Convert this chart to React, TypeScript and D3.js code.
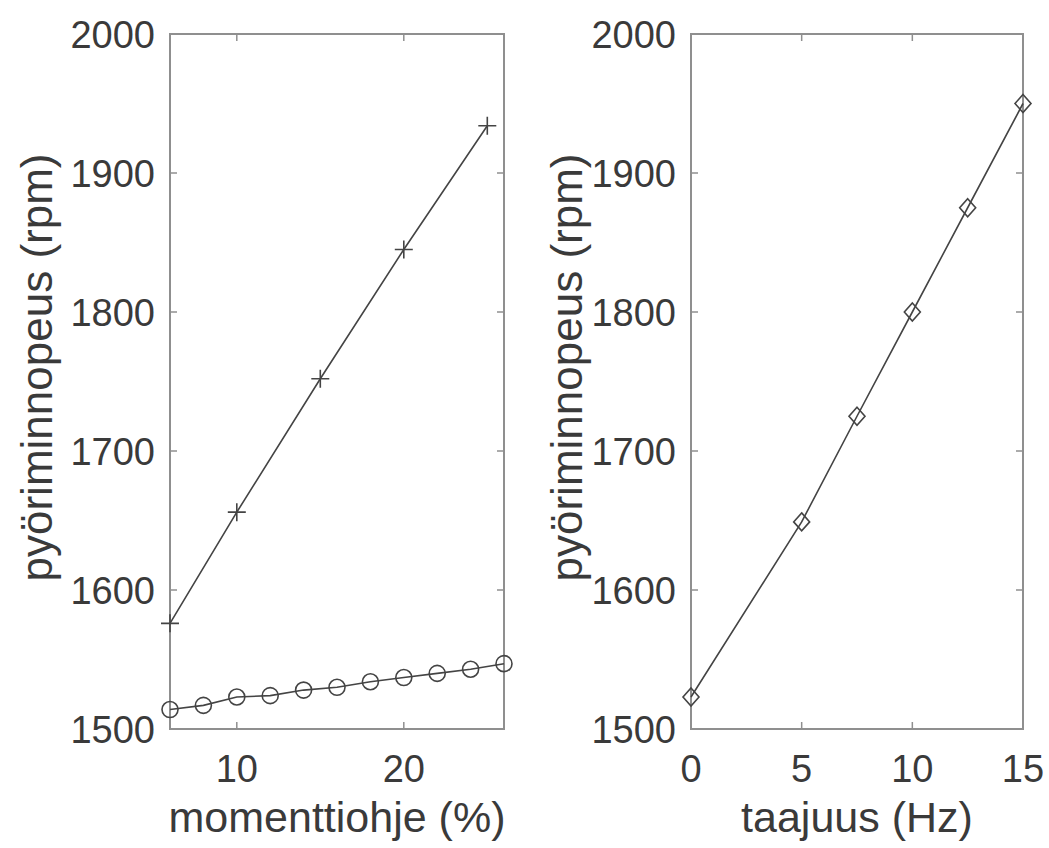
import * as d3 from 'd3';
import { useEffect, useRef } from 'react';

// left panel: speed vs torque command
const torqueX = [6, 10, 15, 20, 25];
const torqueRpm = [1576, 1656, 1752, 1845, 1934];
const loadX = [6, 8, 10, 12, 14, 16, 18, 20, 22, 24, 26];
const loadRpm = [1514, 1517, 1523, 1524, 1528, 1530, 1534, 1537, 1540, 1543, 1547];

// right panel: speed vs frequency
const freqX = [0, 5, 7.5, 10, 12.5, 15];
const freqRpm = [1523, 1649, 1725, 1800, 1875, 1950];

const rpmTicks = [1500, 1600, 1700, 1800, 1900, 2000];
const torqueTicks = [10, 20];
const freqTicks = [0, 5, 10, 15];

const AXIS = '#8f8f8f';
const TEXT = '#3a3a3a';
const LINE = '#444';

export default function App() {
  const ref = useRef<SVGSVGElement | null>(null);

  useEffect(() => {
    const width = 1049;
    const height = 848;
    const svg = d3.select(ref.current);
    svg.selectAll('*').remove();
    svg.attr('width', width).attr('height', height);

    const top = 34;
    const bottom = 729;
    const y = d3.scaleLinear().domain([1500, 2000]).range([bottom, top]);

    const panel = (
      left: number,
      right: number,
      xDomain: [number, number],
      xTicks: number[],
      xLabel: string,
      yLabelX: number
    ) => {
      const x = d3.scaleLinear().domain(xDomain).range([left, right]);
      const g = svg.append('g');

      g.append('rect')
        .attr('x', left)
        .attr('y', top)
        .attr('width', right - left)
        .attr('height', bottom - top)
        .attr('fill', 'none')
        .attr('stroke', AXIS)
        .attr('stroke-width', 2);

      const tl = 7;
      // y ticks (left and right, inward)
      rpmTicks.forEach(t => {
        g.append('line').attr('x1', left).attr('x2', left + tl).attr('y1', y(t)).attr('y2', y(t))
          .attr('stroke', AXIS).attr('stroke-width', 1.5);
        g.append('line').attr('x1', right).attr('x2', right - tl).attr('y1', y(t)).attr('y2', y(t))
          .attr('stroke', AXIS).attr('stroke-width', 1.5);
        g.append('text')
          .attr('x', left - 15)
          .attr('y', y(t))
          .attr('dy', '0.36em')
          .attr('text-anchor', 'end')
          .attr('fill', TEXT)
          .style('font-family', 'Liberation Sans, Arial, sans-serif')
          .style('font-size', '38px')
          .text(t);
      });
      // x ticks (bottom and top, inward)
      xTicks.forEach(t => {
        g.append('line').attr('x1', x(t)).attr('x2', x(t)).attr('y1', bottom).attr('y2', bottom - tl)
          .attr('stroke', AXIS).attr('stroke-width', 1.5);
        g.append('line').attr('x1', x(t)).attr('x2', x(t)).attr('y1', top).attr('y2', top + tl)
          .attr('stroke', AXIS).attr('stroke-width', 1.5);
        g.append('text')
          .attr('x', x(t))
          .attr('y', 782)
          .attr('text-anchor', 'middle')
          .attr('fill', TEXT)
          .style('font-family', 'Liberation Sans, Arial, sans-serif')
          .style('font-size', '38px')
          .text(t);
      });

      g.append('text')
        .attr('x', (left + right) / 2)
        .attr('y', 832)
        .attr('text-anchor', 'middle')
        .attr('fill', TEXT)
        .style('font-family', 'Liberation Sans, Arial, sans-serif')
        .style('font-size', '43px')
        .text(xLabel);

      g.append('text')
        .attr('transform', `translate(${yLabelX},${(top + bottom) / 2 - 14}) rotate(-90)`)
        .attr('text-anchor', 'middle')
        .attr('fill', TEXT)
        .style('font-family', 'Liberation Sans, Arial, sans-serif')
        .style('font-size', '44px')
        .text('pyöriminnopeus (rpm)');

      return { x, g };
    };

    const line = (x: d3.ScaleLinear<number, number>, xs: number[], ys: number[]) =>
      d3.line<number>().x((_, i) => x(xs[i])).y((_, i) => y(ys[i]))(xs);

    /* ---------- LEFT PANEL ---------- */
    const L = panel(170, 504, [6, 26], torqueTicks, 'momenttiohje (%)', 52);
    L.g.append('path').attr('d', line(L.x, torqueX, torqueRpm)).attr('fill', 'none')
      .attr('stroke', LINE).attr('stroke-width', 1.6);
    L.g.append('path').attr('d', line(L.x, loadX, loadRpm)).attr('fill', 'none')
      .attr('stroke', LINE).attr('stroke-width', 1.6);
    torqueX.forEach((v, i) => {
      const cx = L.x(v);
      const cy = y(torqueRpm[i]);
      L.g.append('path')
        .attr('d', `M${cx - 9},${cy}H${cx + 9}M${cx},${cy - 9}V${cy + 9}`)
        .attr('stroke', LINE).attr('stroke-width', 1.6);
    });
    loadX.forEach((v, i) => {
      L.g.append('circle')
        .attr('cx', L.x(v)).attr('cy', y(loadRpm[i])).attr('r', 8)
        .attr('fill', 'none').attr('stroke', LINE).attr('stroke-width', 1.6);
    });

    /* ---------- RIGHT PANEL ---------- */
    const R = panel(691, 1023, [0, 15], freqTicks, 'taajuus (Hz)', 582);
    R.g.append('path').attr('d', line(R.x, freqX, freqRpm)).attr('fill', 'none')
      .attr('stroke', LINE).attr('stroke-width', 1.6);
    freqX.forEach((v, i) => {
      const cx = R.x(v);
      const cy = y(freqRpm[i]);
      R.g.append('path')
        .attr('d', `M${cx},${cy - 9}L${cx + 8},${cy}L${cx},${cy + 9}L${cx - 8},${cy}Z`)
        .attr('fill', 'none').attr('stroke', LINE).attr('stroke-width', 1.6);
    });
  }, []);

  return (
    <svg
      ref={ref}
      style={{ position: 'absolute', left: 0, top: 0, background: '#fff' }}
    />
  );
}
